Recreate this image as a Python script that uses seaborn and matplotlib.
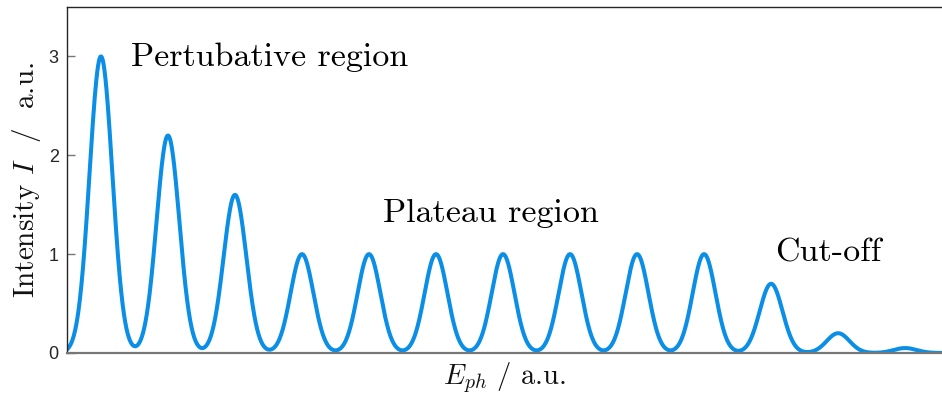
import numpy as np
import pandas as pd
import matplotlib
matplotlib.use("Agg")
import matplotlib.pyplot as plt
import seaborn as sns

# Harmonic orders and the peak intensity of each harmonic
harmonic_order = [1, 2, 3, 4, 5, 6, 7, 8, 9, 10, 11, 12, 13]
peak_intensity = [3.0, 2.2, 1.6, 1.0, 1.0, 1.0, 1.0, 1.0, 1.0, 1.0, 0.7, 0.2, 0.05]
peak_width = 0.17  # Gaussian width of each harmonic line

y_ticks = [0, 1, 2, 3]
region_labels = ["Pertubative region", "Plateau region", "Cut-off"]
region_pos = [(1.45, 2.90), (5.21, 1.33), (11.06, 0.93)]

sns.set_theme(style="white")
plt.rcParams["mathtext.fontset"] = "cm"
plt.rcParams["axes.formatter.use_mathtext"] = True

# Spectrum built as a sum of Gaussian harmonic lines
energy = np.linspace(0.45, 13.6, 3000)
intensity = np.zeros_like(energy)
for order, height in zip(harmonic_order, peak_intensity):
    intensity += height * np.exp(-(energy - order) ** 2 / (2 * peak_width ** 2))
spectrum = pd.DataFrame({"E": energy, "I": intensity})

fig = plt.figure(figsize=(9.42, 3.94), dpi=100)
ax = fig.add_axes([0.0711, 0.1041, 0.9289, 0.8781])

sns.lineplot(data=spectrum, x="E", y="I", ax=ax, color="#0a8ee6", linewidth=2.9)

ax.set_xlim(0.493, 13.55)
ax.set_ylim(0, 3.5)
ax.set_xticks([])
ax.set_yticks(y_ticks)
ax.set_yticklabels([str(t) for t in y_ticks], family="Liberation Sans", fontsize=13, color="#262626")
ax.tick_params(axis="y", direction="in", length=6, width=1, color="#777777", left=True, pad=6)

for side in ["left", "top"]:
    ax.spines[side].set_color("#262626")
    ax.spines[side].set_linewidth(1.0)
ax.spines["bottom"].set_color("#777777")
ax.spines["bottom"].set_linewidth(1.6)
ax.spines["right"].set_visible(False)

ax.set_ylabel("Intensity $I$  /  a.u.", family="cmr10", fontsize=21, color="#111111", labelpad=4)
ax.set_xlabel("$E_{ph}$ / a.u.", family="cmr10", fontsize=20.5, color="#111111", labelpad=5)

for label, (tx, ty) in zip(region_labels, region_pos):
    ax.text(tx, ty, label, family="cmr10", fontsize=24.5, color="black", ha="left", va="baseline")

fig.savefig("out.png", dpi=100)
